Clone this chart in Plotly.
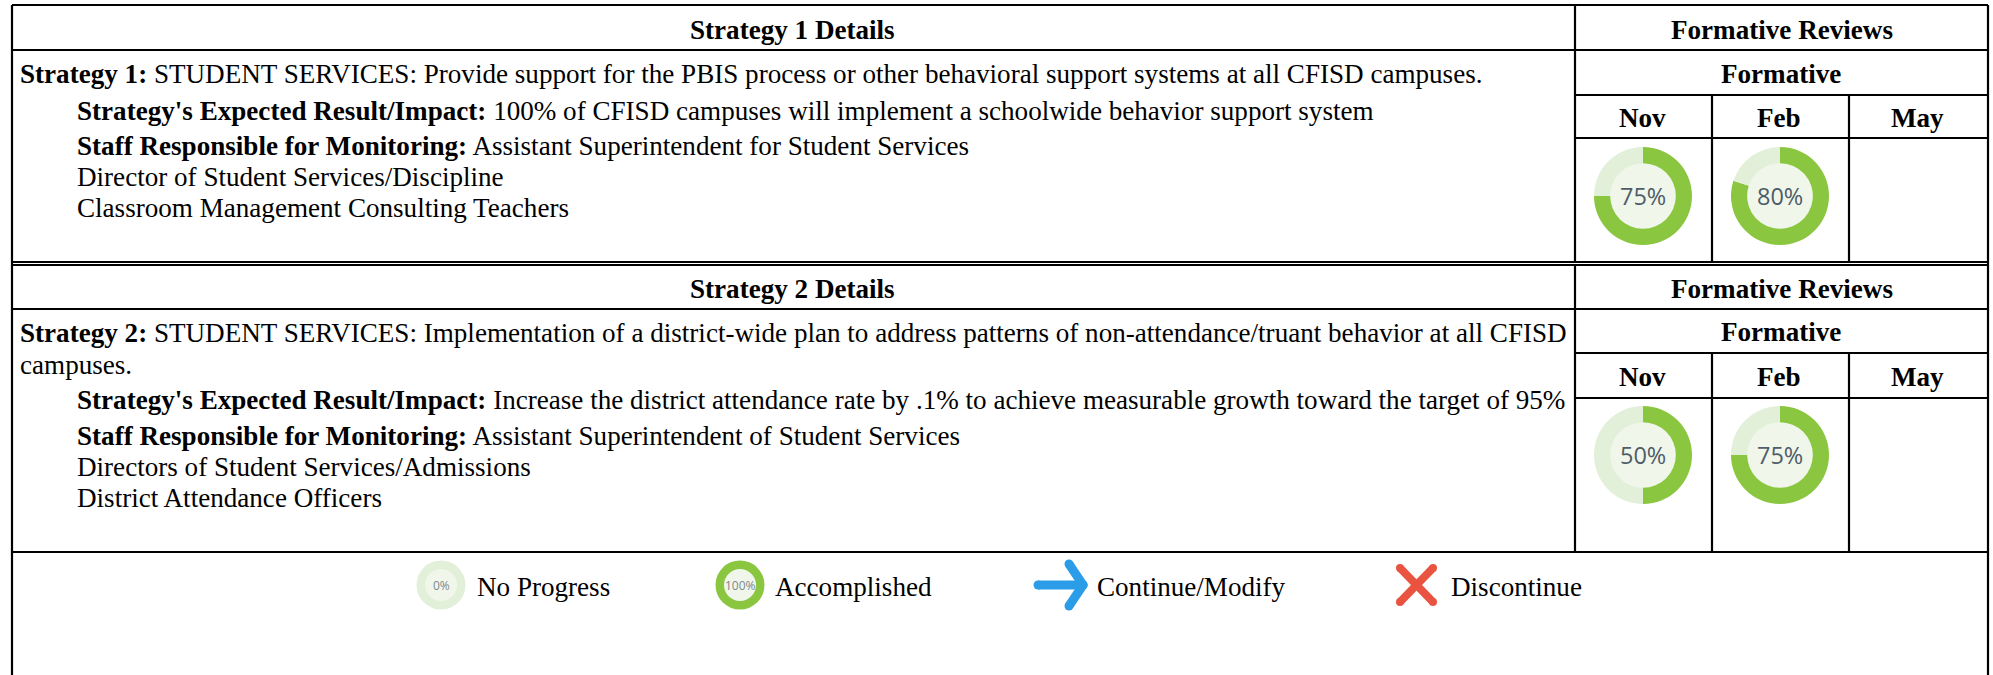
import plotly.graph_objects as go

W, H = 1993, 675
SERIF = "Liberation Serif"
GREEN, PALE, CORE, INK = "#8ac640", "#e2efd9", "#f0f7ea", "#4f5c69"

months = ["Nov", "Feb", "May"]
strategy_scores = [[75, 80], [50, 75]]
legend_labels = ["No Progress", "Accomplished", "Continue/Modify", "Discontinue"]
legend_scores = ["0%", "100%"]
strategy_headers = ["Strategy 1 Details", "Strategy 2 Details"]
review_header = "Formative Reviews"
sub_header = "Formative"
body_lines_1 = [
    "<b>Strategy 1:</b> STUDENT SERVICES: Provide support for the PBIS process or other behavioral support systems at all CFISD campuses.",
    "<b>Strategy's Expected Result/Impact:</b> 100% of CFISD campuses will implement a schoolwide behavior support system",
    "<b>Staff Responsible for Monitoring:</b> Assistant Superintendent for Student Services",
    "Director of Student Services/Discipline",
    "Classroom Management Consulting Teachers",
]
body_lines_2 = [
    "<b>Strategy 2:</b> STUDENT SERVICES: Implementation of a district-wide plan to address patterns of non-attendance/truant behavior at all CFISD",
    "campuses.",
    "<b>Strategy's Expected Result/Impact:</b> Increase the district attendance rate by .1% to achieve measurable growth toward the target of 95%",
    "<b>Staff Responsible for Monitoring:</b> Assistant Superintendent of Student Services",
    "Directors of Student Services/Admissions",
    "District Attendance Officers",
]

L, DIV, R = 12, 1575, 1988
COLS = [1712, 1849]
MONTH_X = [1642, 1779, 1917]
DONUT_X = [1643, 1780]
BLOCKS = [
    dict(top=5, head=50, form=95, mon=138, bot=262, donut=196, ys=[74, 111, 146, 177, 208], lines=body_lines_1, x=[18, 75, 75, 75, 75]),
    dict(top=265, head=309, form=353, mon=398, bot=552, donut=455, ys=[333, 365, 400, 436, 467, 498], lines=body_lines_2, x=[18, 18, 75, 75, 75, 75]),
]

fig = go.Figure()
texts = []


def add_text(x, y, text, size=27.1, anchor="center", color="black", family=SERIF):
    texts.append(dict(x=x, y=y, text=text, xref="x", yref="y", showarrow=False, xanchor=anchor,
                      yanchor="middle", font=dict(family=family, size=size, color=color)))


def segs(pairs, width, color="black", round_ends=False):
    xs, ys = [], []
    for (a, b) in pairs:
        xs += [a[0], b[0], None]
        ys += [a[1], b[1], None]
    fig.add_trace(go.Scatter(x=xs, y=ys, mode="lines+markers" if round_ends else "lines",
                             line=dict(color=color, width=width), marker=dict(color=color, size=width),
                             hoverinfo="skip", showlegend=False))


grid = [((L, 5), (L, H)), ((R, 5), (R, H)), ((L, 5), (R, 5))]
for k, b in enumerate(BLOCKS):
    grid += [((L, b["head"]), (R, b["head"])), ((DIV, b["form"]), (R, b["form"])),
             ((DIV, b["mon"]), (R, b["mon"])), ((L, b["bot"]), (R, b["bot"])),
             ((DIV, b["top"]), (DIV, b["bot"]))]
    grid += [((c, b["form"]), (c, b["bot"])) for c in COLS]
    add_text(792, (b["top"] + b["head"]) / 2 + 2, f"<b>{strategy_headers[k]}</b>")
    add_text((DIV + R) / 2, (b["top"] + b["head"]) / 2 + 2, f"<b>{review_header}</b>")
    add_text((DIV + R) / 2 - 1, (b["head"] + b["form"]) / 2 + 1, f"<b>{sub_header}</b>")
    for mx, m in zip(MONTH_X, months):
        add_text(mx, (b["form"] + b["mon"]) / 2 + 1, f"<b>{m}</b>")
    for x, y, t in zip(b["x"], b["ys"], b["lines"]):
        add_text(x, y, t, anchor="left")
segs(grid + [((L, 265), (R, 265))], 2.2)

for b, scores in zip(BLOCKS, strategy_scores):
    fig.add_trace(go.Scatter(x=DONUT_X, y=[b["donut"]] * 2, mode="markers",
                             marker=dict(size=70, color=CORE), hoverinfo="skip", showlegend=False))
    for cx, v in zip(DONUT_X, scores):
        r = 49
        fig.add_trace(go.Pie(values=[v, 100 - v], sort=False, direction="clockwise", rotation=0, hole=0.67,
                             marker=dict(colors=[GREEN, PALE], line=dict(width=0)), textinfo="none",
                             hoverinfo="skip", showlegend=False,
                             domain=dict(x=[(cx - r) / W, (cx + r) / W], y=[1 - (b["donut"] + r) / H, 1 - (b["donut"] - r) / H])))
        add_text(cx, b["donut"], f"{v}%", size=23.5, color=INK, family="Open Sans")

# legend
shapes = []
for cx, col, t in zip([441, 740], [PALE, GREEN], legend_scores):
    shapes.append(dict(type="circle", xref="x", yref="y", x0=cx - 24.5, x1=cx + 24.5, y0=585 - 24.5, y1=585 + 24.5,
                       fillcolor=col, line=dict(width=0), layer="below"))
    shapes.append(dict(type="circle", xref="x", yref="y", x0=cx - 16, x1=cx + 16, y0=585 - 16, y1=585 + 16,
                       fillcolor=CORE, line=dict(width=0), layer="below"))
    add_text(cx, 585, t, size=12, color="#7d8790", family="Open Sans")
segs([((1038, 585), (1083, 585)), ((1069, 564), (1083, 585)), ((1083, 585), (1069, 606))], 9, "#2b9de8", True)
segs([((1400, 568), (1433, 602)), ((1433, 568), (1400, 602))], 8, "#ea5340", True)
for x, t in zip([475, 773, 1095, 1449], legend_labels):
    add_text(x, 587, t, anchor="left")

fig.update_layout(
    width=W, height=H, margin=dict(l=0, r=0, t=0, b=0), paper_bgcolor="white", plot_bgcolor="white",
    showlegend=False, annotations=texts, shapes=shapes,
    xaxis=dict(range=[0, W], visible=False, fixedrange=True),
    yaxis=dict(range=[H, 0], visible=False, fixedrange=True),
)
fig.write_html("out.html", config=dict(displayModeBar=False),
               post_script="document.body.style.margin='0';document.body.style.overflow='hidden';")
